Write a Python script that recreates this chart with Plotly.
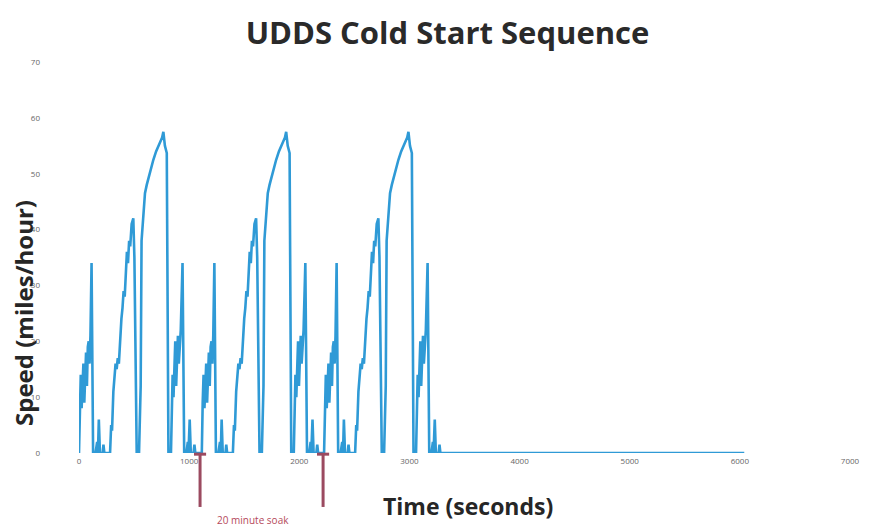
import plotly.graph_objects as go

# ---- data ----
# one UDDS-like cycle (time in s relative to cycle start, speed in mph)
cycle_time = [0, 8, 16, 24, 32, 40, 48, 56, 64, 72, 80, 88, 96, 104, 114, 128,
              150, 165, 172, 180, 190, 215, 222, 230, 282, 292, 300, 312, 322,
              332, 342, 352, 362, 372, 385, 395, 405, 415, 425, 435, 445, 455,
              465, 478, 493, 503, 512, 524, 545, 560, 568, 581, 599, 615, 629,
              650, 675, 700, 736, 755, 766, 780, 797, 804, 812, 835, 842, 850,
              858, 866, 874, 882, 890, 898, 906, 914, 924, 940, 955, 975, 988,
              994, 1005, 1015, 1040, 1048, 1056, 1110]
cycle_speed = [0, 9, 14, 8, 13, 16, 9, 15, 18, 12, 19, 20, 16, 21, 34, 0,
               0, 2, 0, 6, 0, 0, 1.5, 0, 0, 5, 4, 11, 13,
               16, 15, 17, 16, 20, 24, 26, 29, 28, 33, 36, 34, 38,
               37, 41, 42, 35, 20, 0, 0, 12, 38, 42, 46.5, 48, 49,
               51, 52.5, 54, 55.5, 56.5, 57.5, 55, 53.7, 30, 0, 0, 9, 14,
               10, 17, 20, 12, 19, 21, 16, 20, 22, 34, 0, 0, 2,
               0, 6, 0, 0, 1.5, 0, 0]
cycle_starts = [0, 1115, 2225]          # start of each repeated cycle (s)
tail_time = [3335, 6040]                # final idle segment
tail_speed = [0, 0]
soak_marks = [1099, 2216]               # "20 minute soak" markers (s)

x_ticks = [0, 1000, 2000, 3000, 4000, 5000, 6000, 7000]
y_ticks = [0, 10, 20, 30, 40, 50, 60, 70]

time, speed = [], []
for s in cycle_starts:
    time += [s + t for t in cycle_time]
    speed += cycle_speed
time += tail_time
speed += tail_speed

# the page body has an 8px default margin, so the figure is 8px smaller
W, H = 871, 521

fig = go.Figure()
fig.add_trace(go.Scatter(x=time, y=speed, mode="lines",
                         line=dict(color="#2f9ad6", width=2.6),
                         showlegend=False, hoverinfo="skip"))

shapes = []
for m in soak_marks:
    shapes.append(dict(type="line", xref="x", yref="paper", x0=m, x1=m,
                       y0=0, y1=-0.138, line=dict(color="#9b4a60", width=3)))
    shapes.append(dict(type="line", xref="x", yref="paper", x0=m - 55, x1=m + 55,
                       y0=-0.003, y1=-0.003, line=dict(color="#9b4a60", width=3)))

annotations = [
    dict(text="Speed (miles/hour)", textangle=-90, xref="paper", yref="paper",
         x=-(79 - 23) / 771, y=(453 - 313) / 391, xanchor="center", yanchor="middle",
         showarrow=False,
         font=dict(family="Open Sans", size=24, color="#262626", weight="bold")),
    dict(text="Time (seconds)", xref="paper", yref="paper",
         x=(468 - 79) / 771, y=-(506 - 453) / 391, xanchor="center", yanchor="middle",
         showarrow=False,
         font=dict(family="Open Sans", size=23, color="#262626", weight="bold")),
    dict(text="20 minute soak", xref="paper", yref="paper",
         x=(253 - 79) / 771, y=-(520 - 453) / 391, xanchor="center", yanchor="middle",
         showarrow=False,
         font=dict(family="Open Sans", size=10, color="#b5495b")),
]

fig.update_layout(
    width=W, height=H,
    margin=dict(l=71, r=29, t=54, b=76),
    paper_bgcolor="white", plot_bgcolor="white",
    title=dict(text="<b>UDDS Cold Start Sequence</b>", x=(447.5 - 8) / W, xanchor="center",
               y=1 - (33 - 8) / H, yanchor="middle",
               font=dict(family="Open Sans", size=31, color="#2a2a2a")),
    xaxis=dict(range=[0, 7000], tickvals=x_ticks, ticktext=[str(v) for v in x_ticks],
               showgrid=False, zeroline=False, showline=False, ticks="",
               tickfont=dict(family="Open Sans", size=8, color="#666666"),
               ticklabelstandoff=2),
    yaxis=dict(range=[0, 70], tickvals=y_ticks, ticktext=[str(v) for v in y_ticks],
               showgrid=False, zeroline=False, showline=False, ticks="",
               tickfont=dict(family="Open Sans", size=8, color="#666666"),
               ticklabelstandoff=38),
    shapes=shapes, annotations=annotations,
)

fig.write_html("out.html")
